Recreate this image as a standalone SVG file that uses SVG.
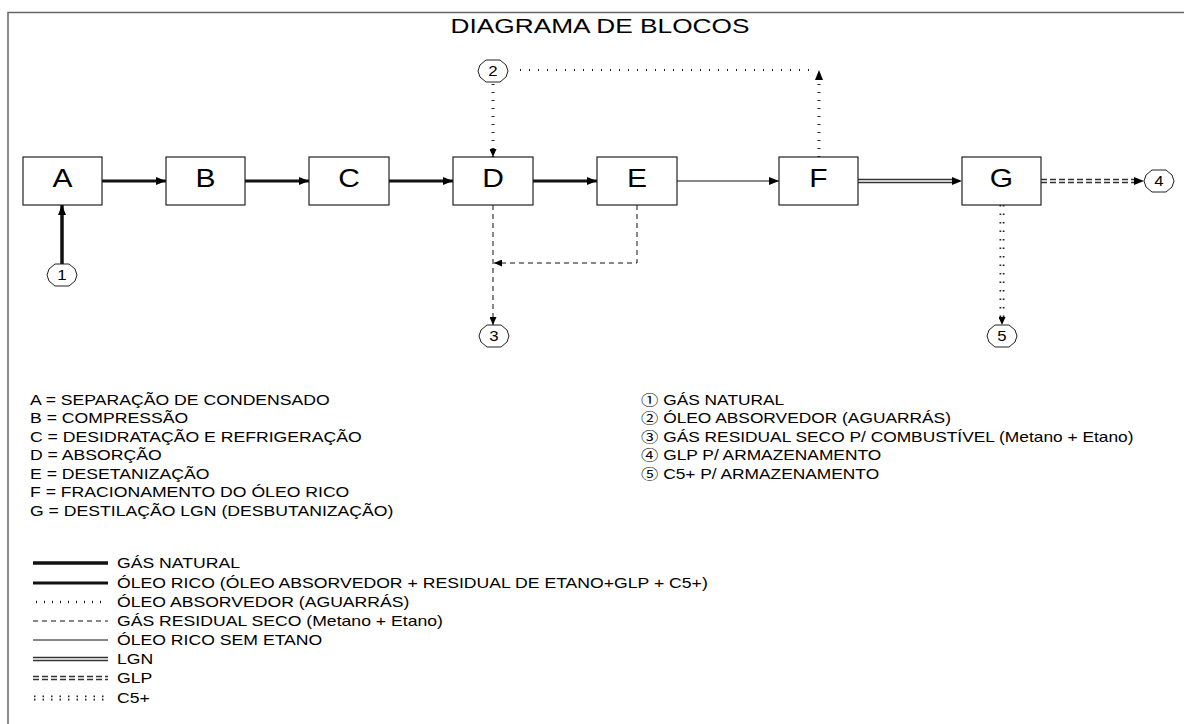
<svg xmlns="http://www.w3.org/2000/svg" xmlns:xlink="http://www.w3.org/1999/xlink" width="1184" height="724" viewBox="0 0 1184 724">
<style>
text{font-family:"Liberation Sans",Arial,"Noto Sans CJK JP",sans-serif;fill:#000}
.title{font-size:21px;text-anchor:middle}
.lbl{font-size:25px;text-anchor:middle}
.num{font-size:14px;text-anchor:middle}
.leg{font-size:14px}
.box{fill:#fff;stroke:#222;stroke-width:1.2}
.hex{fill:#fff;stroke:#222;stroke-width:1}
.thick{stroke:#111;stroke-width:3.5;fill:none}
.thick2{stroke:#111;stroke-width:3;fill:none}
.thin{stroke:#111;stroke-width:1;fill:none}
.dash{stroke:#111;stroke-width:1;stroke-dasharray:5 4;fill:none}
.dotv{stroke:#222;stroke-width:3;stroke-dasharray:1 7;fill:none}
.doth{stroke:#222;stroke-width:2;stroke-dasharray:1 8;fill:none}
.dblo{stroke:#333;stroke-width:4.5;fill:none}
.dbli{stroke:#fff;stroke-width:1.5;fill:none}
.glpo{stroke:#333;stroke-width:4.5;stroke-dasharray:6 3;fill:none}
.c5o{stroke:#222;stroke-width:5;stroke-dasharray:1.5 7;fill:none}
</style>
<defs>
<marker id="ah" viewBox="0 0 10 8" refX="10" refY="4" markerWidth="10" markerHeight="8" markerUnits="userSpaceOnUse" orient="auto"><path d="M0,0 L10,4 L0,8 z" fill="#000"/></marker>
<marker id="ahs" viewBox="0 0 8 7" refX="8" refY="3.5" markerWidth="8" markerHeight="7" markerUnits="userSpaceOnUse" orient="auto"><path d="M0,0 L8,3.5 L0,7 z" fill="#000"/></marker>
<polygon id="hx" class="hex" points="-7,-11 7,-11 13,-6 15,0 13,6 7,11 -7,11 -13,6 -15,0 -13,-6"/>
</defs>
<rect width="1184" height="724" fill="#fff"/>
<path d="M8,724 V12.5 H1184" fill="none" stroke="#666" stroke-width="1.5"/>
<text class="title" transform="translate(600,33) scale(1.25,1)">DIAGRAMA DE BLOCOS</text>

<g id="connectors">
  <line class="thick" x1="62" y1="264" x2="62" y2="205" marker-end="url(#ah)"/>
  <line class="thick2" x1="102" y1="181" x2="166" y2="181" marker-end="url(#ah)"/>
  <line class="thick2" x1="245" y1="181" x2="309" y2="181" marker-end="url(#ah)"/>
  <line class="thick2" x1="389" y1="181" x2="453" y2="181" marker-end="url(#ah)"/>
  <line class="thick2" x1="533" y1="181" x2="597" y2="181" marker-end="url(#ah)"/>
  <line class="thin" x1="677" y1="181" x2="779" y2="181" marker-end="url(#ah)"/>
  <line class="dblo" x1="858" y1="181" x2="952" y2="181"/>
  <line class="dbli" x1="856" y1="181" x2="962" y2="181" marker-end="url(#ah)"/>
  <line class="glpo" x1="1041" y1="181" x2="1134" y2="181"/>
  <line class="dbli" x1="1041" y1="181" x2="1144" y2="181" marker-end="url(#ah)"/>
  <line class="c5o" x1="1002" y1="205" x2="1002" y2="318"/>
  <line class="dbli" x1="1002" y1="205" x2="1002" y2="325" marker-end="url(#ahs)"/>
  <line class="dotv" x1="493" y1="84" x2="493" y2="157" marker-end="url(#ahs)"/>
  <line class="doth" x1="520" y1="70" x2="810" y2="70"/>
  <line class="dotv" x1="819" y1="157" x2="819" y2="70" marker-end="url(#ah)"/>
  <line class="dash" x1="493" y1="205" x2="493" y2="325" marker-end="url(#ahs)"/>
  <polyline class="dash" points="637,205 637,263 494,263" marker-end="url(#ahs)"/>
</g>

<g id="node-A"><rect class="box" x="23" y="157" width="79" height="48"/><text class="lbl" transform="translate(62.5,187) scale(1.2,1)">A</text></g>
<g id="node-B"><rect class="box" x="166" y="157" width="79" height="48"/><text class="lbl" transform="translate(205.5,187) scale(1.2,1)">B</text></g>
<g id="node-C"><rect class="box" x="309" y="157" width="80" height="48"/><text class="lbl" transform="translate(349,187) scale(1.2,1)">C</text></g>
<g id="node-D"><rect class="box" x="453" y="157" width="80" height="48"/><text class="lbl" transform="translate(493,187) scale(1.2,1)">D</text></g>
<g id="node-E"><rect class="box" x="597" y="157" width="80" height="48"/><text class="lbl" transform="translate(637,187) scale(1.2,1)">E</text></g>
<g id="node-F"><rect class="box" x="779" y="157" width="79" height="48"/><text class="lbl" transform="translate(818.5,187) scale(1.2,1)">F</text></g>
<g id="node-G"><rect class="box" x="962" y="157" width="79" height="48"/><text class="lbl" transform="translate(1001.5,187) scale(1.2,1)">G</text></g>

<g id="node-1"><use xlink:href="#hx" x="62" y="275"/><text class="num" transform="translate(62,280) scale(1.2,1)">1</text></g>
<g id="node-2"><use xlink:href="#hx" x="493" y="71"/><text class="num" transform="translate(493,76) scale(1.2,1)">2</text></g>
<g id="node-3"><use xlink:href="#hx" x="494" y="336"/><text class="num" transform="translate(494,341) scale(1.2,1)">3</text></g>
<g id="node-4"><use xlink:href="#hx" x="1159" y="181"/><text class="num" transform="translate(1159,186) scale(1.2,1)">4</text></g>
<g id="node-5"><use xlink:href="#hx" x="1002" y="336"/><text class="num" transform="translate(1002,341) scale(1.2,1)">5</text></g>

<g id="legend-blocks" transform="translate(30,0) scale(1.26,1)">
  <text class="leg" x="0" y="405">A = SEPARAÇÃO DE CONDENSADO</text>
  <text class="leg" x="0" y="423.5">B = COMPRESSÃO</text>
  <text class="leg" x="0" y="442">C = DESIDRATAÇÃO E REFRIGERAÇÃO</text>
  <text class="leg" x="0" y="460.5">D = ABSORÇÃO</text>
  <text class="leg" x="0" y="479">E = DESETANIZAÇÃO</text>
  <text class="leg" x="0" y="497.5">F = FRACIONAMENTO DO ÓLEO RICO</text>
  <text class="leg" x="0" y="516">G = DESTILAÇÃO LGN (DESBUTANIZAÇÃO)</text>
</g>

<g id="legend-streams" transform="translate(641,0) scale(1.24,1)">
  <text class="leg" x="0" y="405">① GÁS NATURAL</text>
  <text class="leg" x="0" y="423.5">② ÓLEO ABSORVEDOR (AGUARRÁS)</text>
  <text class="leg" x="0" y="442">③ GÁS RESIDUAL SECO P/ COMBUSTÍVEL (Metano + Etano)</text>
  <text class="leg" x="0" y="460.5">④ GLP P/ ARMAZENAMENTO</text>
  <text class="leg" x="0" y="479">⑤ C5+ P/ ARMAZENAMENTO</text>
</g>

<g id="legend-lines">
  <line class="thick" x1="33" y1="563" x2="108" y2="563"/>
  <line class="thick2" x1="33" y1="583" x2="108" y2="583"/>
  <line class="dotv" x1="36" y1="602" x2="108" y2="602" style="stroke-width:2.5"/>
  <line class="dash" x1="33" y1="621" x2="108" y2="621"/>
  <line class="thin" x1="33" y1="640" x2="108" y2="640"/>
  <line class="dblo" x1="33" y1="659" x2="108" y2="659"/>
  <line class="dbli" x1="33" y1="659" x2="108" y2="659"/>
  <line class="glpo" x1="33" y1="678" x2="108" y2="678"/>
  <line class="dbli" x1="33" y1="678" x2="108" y2="678"/>
  <line class="c5o" x1="34" y1="698" x2="108" y2="698"/>
  <line class="dbli" x1="33" y1="698" x2="108" y2="698"/>
</g>
<g id="legend-line-texts" transform="translate(117,0) scale(1.26,1)">
  <text class="leg" x="0" y="568">GÁS NATURAL</text>
  <text class="leg" x="0" y="588">ÓLEO RICO (ÓLEO ABSORVEDOR + RESIDUAL DE ETANO+GLP + C5+)</text>
  <text class="leg" x="0" y="607">ÓLEO ABSORVEDOR (AGUARRÁS)</text>
  <text class="leg" x="0" y="626">GÁS RESIDUAL SECO (Metano + Etano)</text>
  <text class="leg" x="0" y="645">ÓLEO RICO SEM ETANO</text>
  <text class="leg" x="0" y="664">LGN</text>
  <text class="leg" x="0" y="683">GLP</text>
  <text class="leg" x="0" y="703">C5+</text>
</g>
</svg>
